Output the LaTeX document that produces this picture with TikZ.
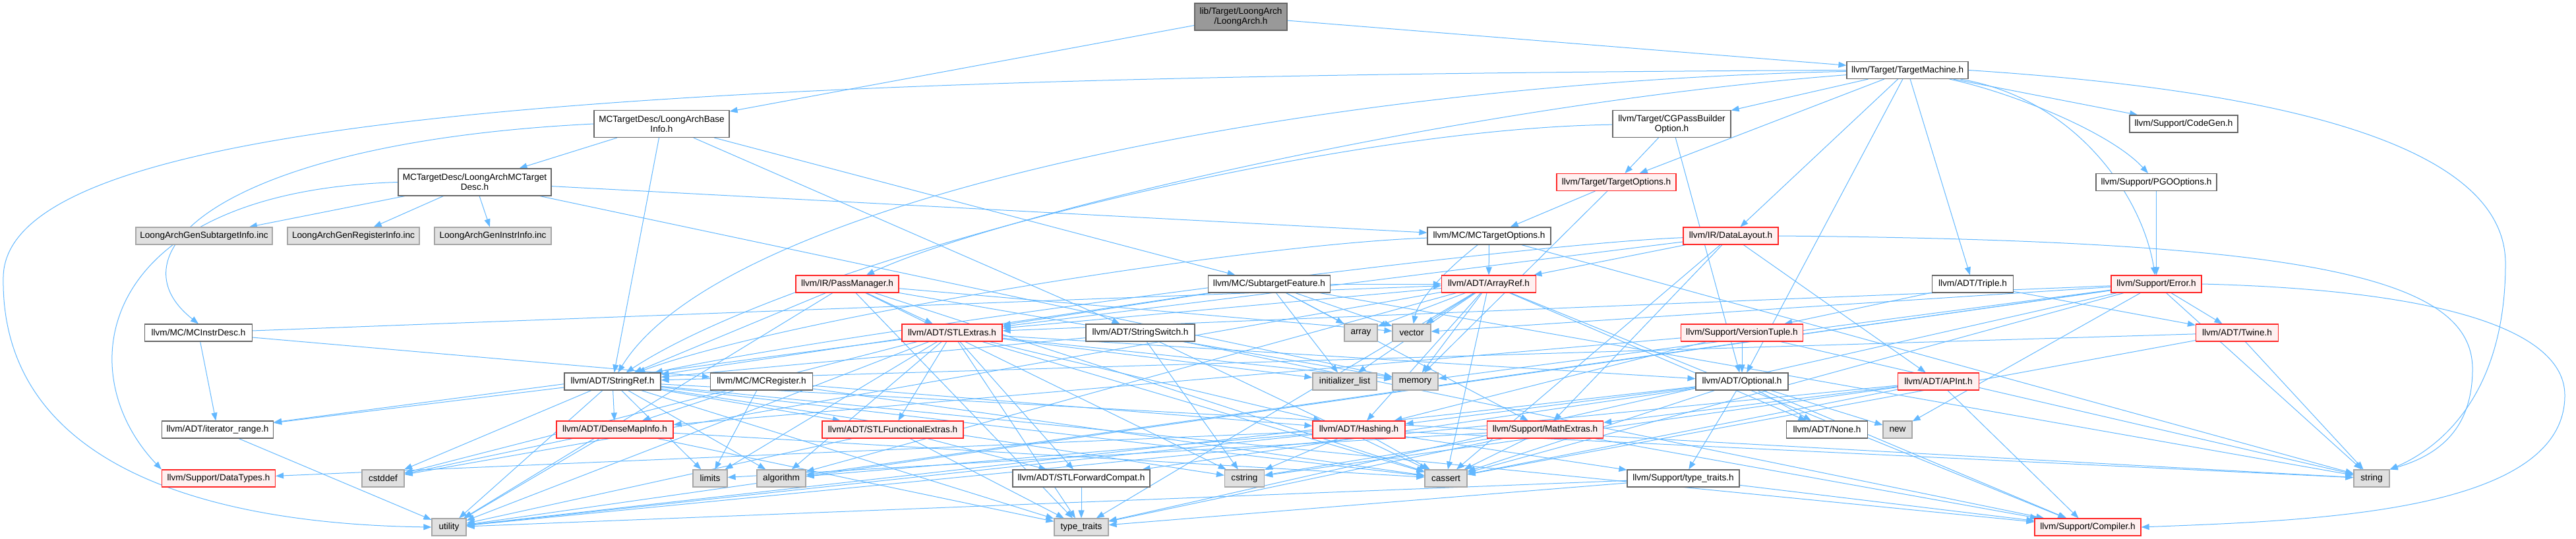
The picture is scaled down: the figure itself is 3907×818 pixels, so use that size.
\documentclass[tikz,border=0pt]{standalone}
\usepackage{fontspec}
\newfontfamily\dxfont{Liberation Sans}
\usepackage{tikz}
\usetikzlibrary{arrows.meta}
\definecolor{edgeblue}{HTML}{63B8FF}
\definecolor{redfill}{HTML}{FFF0F0}
\definecolor{grayfill}{HTML}{E0E0E0}
\definecolor{rootfill}{HTML}{999999}
\pgfdeclarelayer{bg}
\pgfsetlayers{bg,main}

\begin{document}
\begin{tikzpicture}[x=1pt, y=-1pt,
    every node/.style={font={\dxfont\fontsize{13.6}{15}\selectfont}, inner sep=0pt, minimum height=26pt, align=center, line width=1.2pt},
    hdr/.style={draw=black!60, fill=white},
    redbox/.style={draw=red!85, fill=redfill},
    sysbox/.style={draw=black!35, fill=grayfill},
    rootbox/.style={draw=black!60, fill=rootfill},
    tall/.style={minimum height=41pt},
    edge/.style={draw=edgeblue, line width=1pt, -{Triangle[length=12pt,width=9pt]}}]
        \useasboundingbox (0,0) rectangle (3907,818);
        \node[rootbox, tall, minimum width=140] (la) at (1882,25.5) {lib/Target/LoongArch\\/LoongArch.h};
        \node[hdr, minimum width=184] (tm) at (2893,106.5) {llvm/Target/TargetMachine.h};
        \node[hdr, tall, minimum width=205] (bi) at (1003.5,188) {MCTargetDesc/LoongArchBase\\Info.h};
        \node[hdr, tall, minimum width=179] (cgp) at (2535.5,188) {llvm/Target/CGPassBuilder\\Option.h};
        \node[hdr, minimum width=164] (cg) at (3312,188) {llvm/Support/CodeGen.h};
        \node[hdr, tall, minimum width=232] (mcd) at (720,276.5) {MCTargetDesc/LoongArchMCTarget\\Desc.h};
        \node[redbox, minimum width=181] (to) at (2451.5,276.5) {llvm/Target/TargetOptions.h};
        \node[hdr, minimum width=183] (pgo) at (3270.5,276.5) {llvm/Support/PGOOptions.h};
        \node[sysbox, minimum width=207] (gsub) at (309.5,358) {LoongArchGenSubtargetInfo.inc};
        \node[sysbox, minimum width=200] (greg) at (536,358) {LoongArchGenRegisterInfo.inc};
        \node[sysbox, minimum width=177] (gins) at (747.5,358) {LoongArchGenInstrInfo.inc};
        \node[hdr, minimum width=187] (mto) at (2258.5,358) {llvm/MC/MCTargetOptions.h};
        \node[redbox, minimum width=144] (dl) at (2625,358) {llvm/IR/DataLayout.h};
        \node[redbox, minimum width=156] (pm) at (1285,431) {llvm/IR/PassManager.h};
        \node[hdr, minimum width=185] (sf) at (1925,431) {llvm/MC/SubtargetFeature.h};
        \node[redbox, minimum width=143] (ar) at (2258,431) {llvm/ADT/ArrayRef.h};
        \node[hdr, minimum width=123] (tri) at (2992,431) {llvm/ADT/Triple.h};
        \node[redbox, minimum width=137] (err) at (3270.5,431) {llvm/Support/Error.h};
        \node[hdr, minimum width=163] (mid) at (301,505) {llvm/MC/MCInstrDesc.h};
        \node[redbox, minimum width=152] (ste) at (1444,505) {llvm/ADT/STLExtras.h};
        \node[hdr, minimum width=165] (ssw) at (1729.5,505) {llvm/ADT/StringSwitch.h};
        \node[sysbox, minimum width=50] (arr) at (2064,505) {array};
        \node[sysbox, minimum width=58] (vec) at (2141,505) {vector};
        \node[redbox, minimum width=185] (vt) at (2642,505) {llvm/Support/VersionTuple.h};
        \node[redbox, minimum width=125] (tw) at (3393,505) {llvm/ADT/Twine.h};
        \node[hdr, minimum width=146] (sr) at (929,579) {llvm/ADT/StringRef.h};
        \node[hdr, minimum width=155] (mcr) at (1155,579) {llvm/MC/MCRegister.h};
        \node[sysbox, minimum width=97] (il) at (2039.5,579) {initializer\_list};
        \node[sysbox, minimum width=69] (mem) at (2146.5,579) {memory};
        \node[hdr, minimum width=140] (opt) at (2642,579) {llvm/ADT/Optional.h};
        \node[redbox, minimum width=123] (api) at (2940,579) {llvm/ADT/APInt.h};
        \node[hdr, minimum width=169] (itr) at (330,652) {llvm/ADT/iterator\_range.h};
        \node[redbox, minimum width=177] (dmi) at (932.5,652) {llvm/ADT/DenseMapInfo.h};
        \node[redbox, minimum width=214] (sfe) at (1354,652) {llvm/ADT/STLFunctionalExtras.h};
        \node[redbox, minimum width=140] (hsh) at (2061,652) {llvm/ADT/Hashing.h};
        \node[redbox, minimum width=176] (mex) at (2343.5,652) {llvm/Support/MathExtras.h};
        \node[hdr, minimum width=123] (non) at (2771,652) {llvm/ADT/None.h};
        \node[sysbox, minimum width=44] (new) at (2878,652) {new};
        \node[redbox, minimum width=172] (dty) at (331.5,726) {llvm/Support/DataTypes.h};
        \node[sysbox, minimum width=64] (csd) at (581,726) {cstddef};
        \node[sysbox, minimum width=52] (lim) at (1077,726) {limits};
        \node[sysbox, minimum width=74] (alg) at (1185,726) {algorithm};
        \node[hdr, minimum width=208] (sfc) at (1640,726) {llvm/ADT/STLForwardCompat.h};
        \node[sysbox, minimum width=60] (cst) at (1887.5,726) {cstring};
        \node[sysbox, minimum width=64] (cas) at (2193,726) {cassert};
        \node[hdr, minimum width=170] (ttr) at (2553,726) {llvm/Support/type\_traits.h};
        \node[sysbox, minimum width=54] (str) at (3597,726) {string};
        \node[sysbox, minimum width=52] (uti) at (681,800) {utility};
        \node[sysbox, minimum width=82] (tt) at (1640,800) {type\_traits};
        \node[redbox, minimum width=161] (cmp) at (3166.5,800) {llvm/Support/Compiler.h};
        \begin{pgfonlayer}{bg}
        \draw[edge] (la) -- (bi);
        \draw[edge] (la) -- (tm);
        \draw[edge] (tm) .. controls (2000,125) and (1100,300) .. (sr);
        \draw[edge] (tm) -- (tri);
        \draw[edge] (tm) -- (dl);
        \draw[edge] (tm) .. controls (2200,160) and (1500,330) .. (pm);
        \draw[edge] (tm) -- (cg);
        \draw[edge] (tm) .. controls (3150,150) and (3250,300) .. (err);
        \draw[edge] (tm) .. controls (3050,140) and (3200,200) .. (pgo);
        \draw[edge] (tm) -- (cgp);
        \draw[edge] (tm) -- (to);
        \draw[edge] (tm) -- (opt);
        \draw[edge] (tm.east) .. controls (3500,140) and (3800,230) .. (3800,400) .. controls (3800,600) and (3700,680) .. (str.north east);
        \draw[edge] (tm.west) .. controls (1000,115) and (10,170) .. (5,420) .. controls (0,700) and (300,795) .. (uti.west);
        \draw[edge] (bi) -- (mcd);
        \draw[edge] (bi) -- (sr);
        \draw[edge] (bi) -- (ssw);
        \draw[edge] (bi) -- (sf);
        \draw[edge] (bi.west) .. controls (350,215) and (160,380) .. (mid.north);
        \draw[edge] (mcd) -- (gsub);
        \draw[edge] (mcd) -- (greg);
        \draw[edge] (mcd) -- (gins);
        \draw[edge] (mcd) -- (mto);
        \draw[edge] (mcd) -- (mem);
        \draw[edge] (mcd.west) .. controls (150,290) and (100,560) .. (dty.north west);
        \draw[edge] (cgp) -- (opt);
        \draw[edge] (cgp) .. controls (2000,195) and (1200,400) .. (sr);
        \draw[edge] (cgp) -- (to);
        \draw[edge] (to) -- (mto);
        \draw[edge] (to) -- (mem);
        \draw[edge] (pgo) -- (err);
        \draw[edge] (mto) -- (ar);
        \draw[edge] (mto) .. controls (1900,370) and (1200,480) .. (sr);
        \draw[edge] (mto) -- (str);
        \draw[edge] (mto) .. controls (2180,420) and (2150,460) .. (vec);
        \draw[edge] (dl) -- (api);
        \draw[edge] (dl) -- (ar);
        \draw[edge] (dl) -- (ste);
        \draw[edge] (dl) .. controls (2300,370) and (1300,500) .. (sr);
        \draw[edge] (dl) -- (mex);
        \draw[edge] (dl) -- (cas);
        \draw[edge] (dl.east) .. controls (3500,365) and (3750,420) .. (3750,560) .. controls (3750,650) and (3700,690) .. (str.north east);
        \draw[edge] (pm) -- (ste);
        \draw[edge] (pm) -- (sr);
        \draw[edge] (pm) -- (cas);
        \draw[edge] (pm) -- (cst);
        \draw[edge] (pm) -- (mem);
        \draw[edge] (pm) -- (tt);
        \draw[edge] (pm) -- (uti);
        \draw[edge] (pm) -- (vec);
        \draw[edge] (sf) -- (ar);
        \draw[edge] (sf) -- (ste);
        \draw[edge] (sf) -- (sr);
        \draw[edge] (sf) -- (mex);
        \draw[edge] (sf) -- (arr);
        \draw[edge] (sf) -- (il);
        \draw[edge] (sf) -- (str);
        \draw[edge] (sf) -- (vec);
        \draw[edge] (ssw) -- (sr);
        \draw[edge] (ssw) -- (cmp);
        \draw[edge] (ssw) -- (cas);
        \draw[edge] (ssw) -- (cst);
        \draw[edge] (mid) -- (ar);
        \draw[edge] (mid) -- (itr);
        \draw[edge] (mid) -- (mcr);
        \draw[edge] (ar) -- (hsh);
        \draw[edge] (ar) -- (non);
        \draw[edge] (ar) -- (ste);
        \draw[edge] (ar) -- (cmp);
        \draw[edge] (ar) -- (alg);
        \draw[edge] (ar) -- (arr);
        \draw[edge] (ar) -- (cas);
        \draw[edge] (ar) -- (csd);
        \draw[edge] (ar) -- (il);
        \draw[edge] (ar) -- (mem);
        \draw[edge] (ar) -- (tt);
        \draw[edge] (ar) -- (vec);
        \draw[edge] (err) -- (ste);
        \draw[edge] (err) -- (tw);
        \draw[edge] (err) -- (alg);
        \draw[edge] (err) -- (cas);
        \draw[edge] (err) -- (mem);
        \draw[edge] (err) -- (new);
        \draw[edge] (err) -- (str);
        \draw[edge] (err) -- (tt);
        \draw[edge] (err) -- (uti);
        \draw[edge] (err) -- (vec);
        \draw[edge] (err.east) .. controls (3700,440) and (3890,500) .. (3890,600) .. controls (3890,780) and (3500,790) .. (cmp.east);
        \draw[edge] (tri) -- (tw);
        \draw[edge] (tri) -- (vt);
        \draw[edge] (tw) -- (sr);
        \draw[edge] (tw) -- (cas);
        \draw[edge] (tw) -- (str);
        \draw[edge] (vt) -- (dmi);
        \draw[edge] (vt) -- (hsh);
        \draw[edge] (vt) -- (opt);
        \draw[edge] (vt) -- (str);
        \draw[edge] (ste) -- (hsh);
        \draw[edge] (ste) -- (opt);
        \draw[edge] (ste) -- (sfc);
        \draw[edge] (ste) -- (sfe);
        \draw[edge] (ste) -- (itr);
        \draw[edge] (ste) -- (alg);
        \draw[edge] (ste) -- (cas);
        \draw[edge] (ste) -- (csd);
        \draw[edge] (ste) -- (il);
        \draw[edge] (ste) -- (lim);
        \draw[edge] (ste) -- (mem);
        \draw[edge] (ste) -- (tt);
        \draw[edge] (ste) -- (uti);
        \draw[edge] (sr) -- (dmi);
        \draw[edge] (sr) -- (sfe);
        \draw[edge] (sr) -- (itr);
        \draw[edge] (sr) -- (cmp);
        \draw[edge] (sr) -- (alg);
        \draw[edge] (sr) -- (cas);
        \draw[edge] (sr) -- (csd);
        \draw[edge] (sr) -- (cst);
        \draw[edge] (sr) -- (lim);
        \draw[edge] (sr) -- (str);
        \draw[edge] (sr) -- (tt);
        \draw[edge] (sr) -- (uti);
        \draw[edge] (mcr) -- (dmi);
        \draw[edge] (mcr) -- (hsh);
        \draw[edge] (mcr) -- (cas);
        \draw[edge] (mcr) -- (lim);
        \draw[edge] (itr) -- (uti);
        \draw[edge] (dmi) -- (cas);
        \draw[edge] (dmi) -- (csd);
        \draw[edge] (dmi) -- (tt);
        \draw[edge] (dmi) -- (uti);
        \draw[edge] (sfe) -- (sfc);
        \draw[edge] (sfe) -- (tt);
        \draw[edge] (sfe) -- (uti);
        \draw[edge] (sfc) -- (tt);
        \draw[edge] (hsh) -- (dty);
        \draw[edge] (hsh) -- (ttr);
        \draw[edge] (hsh) -- (alg);
        \draw[edge] (hsh) -- (cas);
        \draw[edge] (hsh) -- (cst);
        \draw[edge] (hsh) -- (str);
        \draw[edge] (hsh) -- (uti);
        \draw[edge] (mex) -- (cmp);
        \draw[edge] (mex) -- (cas);
        \draw[edge] (mex) -- (cst);
        \draw[edge] (mex) -- (lim);
        \draw[edge] (mex) -- (tt);
        \draw[edge] (opt) -- (hsh);
        \draw[edge] (opt) -- (non);
        \draw[edge] (opt) -- (sfc);
        \draw[edge] (opt) -- (cmp);
        \draw[edge] (opt) -- (ttr);
        \draw[edge] (opt) -- (cas);
        \draw[edge] (opt) -- (new);
        \draw[edge] (opt) -- (uti);
        \draw[edge] (api) -- (cmp);
        \draw[edge] (api) -- (mex);
        \draw[edge] (api) -- (cas);
        \draw[edge] (api) -- (cst);
        \draw[edge] (api) -- (uti);
        \draw[edge] (ttr) -- (cmp);
        \draw[edge] (ttr) -- (tt);
        \draw[edge] (ttr) -- (uti);
        \end{pgfonlayer}
    \end{tikzpicture}
\end{document}
